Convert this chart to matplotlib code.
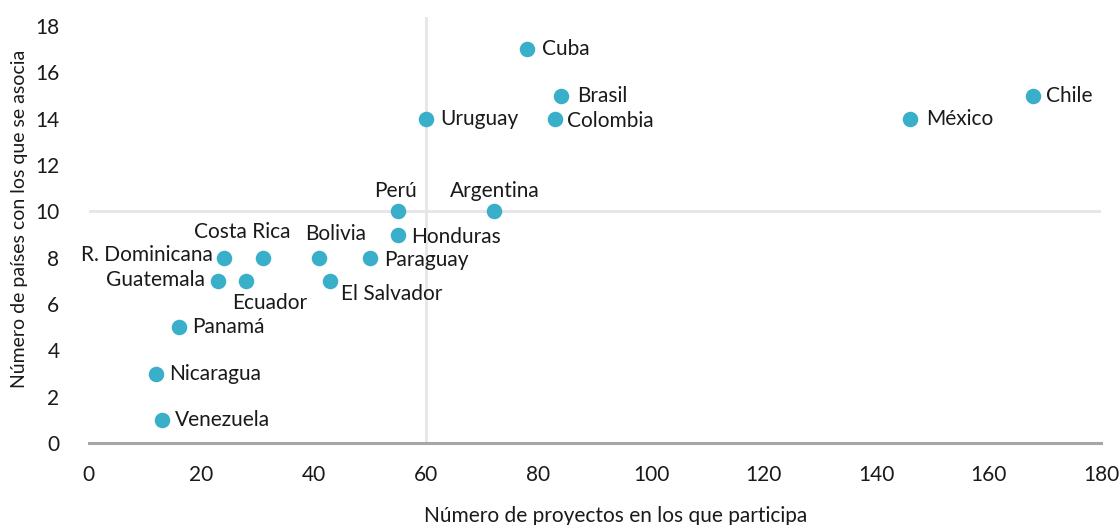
import matplotlib
matplotlib.use("Agg")
import matplotlib.pyplot as plt

plt.rcParams['font.family'] = ['Lato', 'DejaVu Sans']

countries = ["Cuba", "Brasil", "Colombia", "Uruguay", "México", "Chile", "Perú",
             "Argentina", "Honduras", "Paraguay", "Bolivia", "Costa Rica",
             "R. Dominicana", "Guatemala", "Ecuador", "El Salvador", "Panamá",
             "Nicaragua", "Venezuela"]
proyectos = [78, 84, 83, 60, 146, 168, 55, 72, 55, 50, 41, 31, 24, 23, 28, 43, 16, 12, 13]
paises = [17, 15, 14, 14, 14, 15, 10, 10, 9, 8, 8, 8, 8, 7, 7, 7, 5, 3, 1]

# label placement: (dx px, dy px, ha, va)
placement = {
    "Cuba": (15, 0, "left", "center"),
    "Brasil": (16, 0, "left", "center"),
    "Colombia": (12, -2, "left", "center"),
    "Uruguay": (14, 0, "left", "center"),
    "México": (16, 0, "left", "center"),
    "Chile": (13, 0, "left", "center"),
    "Perú": (-2, 20, "center", "center"),
    "Argentina": (1, 20, "center", "center"),
    "Honduras": (13, -2, "left", "center"),
    "Paraguay": (14, -2, "left", "center"),
    "Bolivia": (16, 24, "center", "center"),
    "Costa Rica": (-21, 26, "center", "center"),
    "R. Dominicana": (-11, 3, "right", "center"),
    "Guatemala": (-13, 1, "right", "center"),
    "Ecuador": (24, -22, "center", "center"),
    "El Salvador": (11, -13, "left", "center"),
    "Panamá": (14, 0, "left", "center"),
    "Nicaragua": (13, 0, "left", "center"),
    "Venezuela": (13, 0, "left", "center"),
}

fig = plt.figure(figsize=(11.2, 5.25), dpi=100)
ax = fig.add_axes([0.0791, 0.156, 0.9039, 0.812])

ax.axvline(60, color="#e6e6e6", lw=2, zorder=0)
ax.axhline(10, color="#e6e6e6", lw=2, zorder=0)

ax.scatter(proyectos, paises, s=125, color="#3AAFC9", zorder=3, linewidths=0)

for name, x, y in zip(countries, proyectos, paises):
    dx, dy, ha, va = placement[name]
    ax.annotate(name, (x, y), xytext=(dx, dy), textcoords="offset pixels",
                ha=ha, va=va, fontsize=15, color="#1a1a1a")

ax.set_xlim(0, 180)
ax.set_ylim(0, 18.4)
ax.set_xticks(range(0, 181, 20))
ax.set_yticks(range(0, 19, 2))
for s in ["top", "right", "left"]:
    ax.spines[s].set_visible(False)
ax.spines["bottom"].set_color("#a6a6a6")
ax.spines["bottom"].set_linewidth(2.2)
ax.tick_params(axis="both", length=0, labelsize=15, colors="#1a1a1a")
ax.tick_params(axis="x", pad=16)
ax.tick_params(axis="y", pad=21)

ax.set_xlabel("Número de proyectos en los que participa", fontsize=15, color="#1a1a1a")
ax.xaxis.set_label_coords(0.5207, -0.148)
ax.set_ylabel("Número de países con los que se asocia", fontsize=14, color="#1a1a1a")
ax.yaxis.set_label_coords(-0.06, 0.527)

fig.savefig("out.png", dpi=100)
